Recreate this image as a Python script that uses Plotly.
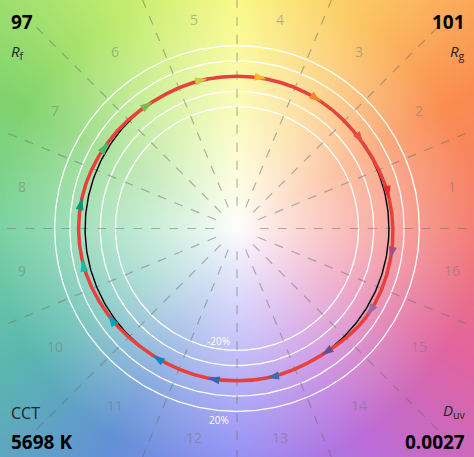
import numpy as np
import plotly.graph_objects as go
import zlib, struct, base64

bins = [str(i) for i in range(1, 17)]
test_radius = [1.02, 1.0, 1.0, 1.0, 1.0, 1.0, 1.02, 1.04, 1.04, 1.02, 1.0, 1.0, 1.0, 1.0, 1.03, 1.03]
bin_colors = ["#e62828", "#e74b4b", "#fb812e", "#ffb529", "#cbca46", "#7eb94c", "#41c06d", "#009c7c",
              "#16bcb0", "#00a4bf", "#0085c3", "#3b62aa", "#4568ae", "#6a4e85", "#9d69a1", "#a74f81"]
ring_levels = [0.8, 0.9, 1.0, 1.1, 1.2]
Rf, Rg, CCT, Duv = "97", "101", "5698 K", "0.0027"

XR, YR = 1.56, 1.50
anchors_deg = [0, 30, 60, 90, 120, 150, 180, 210, 240, 270, 300, 330, 360]
anchors_rgb = np.array([(245, 125, 115), (250, 140, 80), (252, 200, 100), (250, 250, 130), (190, 235, 110),
                        (130, 212, 110), (120, 210, 160), (90, 185, 175), (100, 145, 215), (145, 140, 245),
                        (185, 110, 220), (225, 100, 160), (245, 125, 115)], float)
nx, ny = 237, 228
xs = np.linspace(-XR, XR, nx)
ys = np.linspace(YR, -YR, ny)
X, Y = np.meshgrid(xs, ys)
ang = np.degrees(np.arctan2(Y, X)) % 360
rad = np.hypot(X, Y)
img = np.zeros((ny, nx, 3))
for c in range(3):
    img[..., c] = np.interp(ang, anchors_deg, anchors_rgb[:, c])
s = np.clip(rad / 1.6, 0, 1) ** 0.9
img = (255 * (1 - s[..., None]) + img * s[..., None]).astype(np.uint8)

def png_uri(a):
    h, w, _ = a.shape
    raw = b"".join(b"\x00" + a[i].tobytes() for i in range(h))
    def chunk(t, d):
        return struct.pack(">I", len(d)) + t + d + struct.pack(">I", zlib.crc32(t + d) & 0xffffffff)
    data = b"\x89PNG\r\n\x1a\n" + chunk(b"IHDR", struct.pack(">IIBBBBB", w, h, 8, 2, 0, 0, 0)) + \
        chunk(b"IDAT", zlib.compress(raw, 9)) + chunk(b"IEND", b"")
    return "data:image/png;base64," + base64.b64encode(data).decode()

fig = go.Figure()
t = np.linspace(0, 2 * np.pi, 361)
for r in ring_levels:
    fig.add_trace(go.Scatter(x=r * np.cos(t), y=r * np.sin(t), mode="lines",
                             line=dict(color="white", width=1.3), hoverinfo="skip"))
for k in range(16):
    a = np.radians(22.5 * k)
    fig.add_trace(go.Scatter(x=[0.15 * np.cos(a), 2 * np.cos(a)], y=[0.15 * np.sin(a), 2 * np.sin(a)], mode="lines",
                             line=dict(color="rgba(110,110,110,0.5)", width=1.2, dash="dash"), hoverinfo="skip"))

centers = np.radians(11.25 + 22.5 * np.arange(16))
fig.add_trace(go.Scatter(x=np.cos(t), y=np.sin(t), mode="lines", line=dict(color="black", width=1.5)))
tr = np.array(test_radius + test_radius[:1])
cc = np.concatenate([centers, centers[:1]])
fig.add_trace(go.Scatter(x=tr * np.cos(cc), y=tr * np.sin(cc), mode="lines",
                         line=dict(color="#e8403a", width=3.5, shape="spline", smoothing=1.0)))
angles = [180 - np.degrees(c) for c in centers]
fig.add_trace(go.Scatter(x=np.array(test_radius) * np.cos(centers), y=np.array(test_radius) * np.sin(centers),
                         mode="markers", marker=dict(symbol="arrow", size=13, color=bin_colors, angle=angles)))

ann = []
for i, b in enumerate(bins):
    a = centers[i]
    ann.append(dict(x=1.44 * np.cos(a), y=1.4 * np.sin(a), text=b, showarrow=False,
                    font=dict(size=14, color="rgba(120,120,120,0.5)", family="Open Sans")))
L = dict(xref="paper", yref="paper", showarrow=False)
ann += [
    dict(x=0.02, y=0.985, xanchor="left", yanchor="top", text="<b>" + Rf + "</b>",
         font=dict(size=19, color="black", family="Open Sans"), **L),
    dict(x=0.02, y=0.915, xanchor="left", yanchor="top", text="<i>R</i><sub>f</sub>",
         font=dict(size=15, color="#222", family="Open Sans"), **L),
    dict(x=0.985, y=0.985, xanchor="right", yanchor="top", text="<b>" + Rg + "</b>",
         font=dict(size=19, color="black", family="Open Sans"), **L),
    dict(x=0.985, y=0.915, xanchor="right", yanchor="top", text="<i>R</i><sub>g</sub>",
         font=dict(size=15, color="#222", family="Open Sans"), **L),
    dict(x=0.02, y=0.125, xanchor="left", yanchor="top", text="CCT",
         font=dict(size=16, color="#222", family="Open Sans"), **L),
    dict(x=0.02, y=0.065, xanchor="left", yanchor="top", text="<b>" + CCT + "</b>",
         font=dict(size=19, color="black", family="Open Sans"), **L),
    dict(x=0.985, y=0.13, xanchor="right", yanchor="top", text="<i>D</i><sub>uv</sub>",
         font=dict(size=15, color="#222", family="Open Sans"), **L),
    dict(x=0.985, y=0.065, xanchor="right", yanchor="top", text="<b>" + Duv + "</b>",
         font=dict(size=19, color="black", family="Open Sans"), **L),
    dict(x=-0.12, y=-0.74, text="-20%", showarrow=False, font=dict(size=10, color="white", family="Open Sans")),
    dict(x=-0.12, y=-1.26, text="20%", showarrow=False, font=dict(size=10, color="white", family="Open Sans")),
]

fig.update_layout(width=474, height=457, margin=dict(l=0, r=0, t=0, b=0), showlegend=False,
                  xaxis=dict(range=[-XR, XR], visible=False, fixedrange=True),
                  yaxis=dict(range=[-YR, YR], visible=False, fixedrange=True),
                  images=[dict(source=png_uri(img), xref="x", yref="y", x=-XR, y=YR, sizex=2 * XR, sizey=2 * YR,
                               sizing="stretch", layer="below")],
                  annotations=ann, plot_bgcolor="white")
fig.write_html("out.html", config={"displayModeBar": False},
               post_script="document.body.style.margin='0';document.body.style.overflow='hidden';")
